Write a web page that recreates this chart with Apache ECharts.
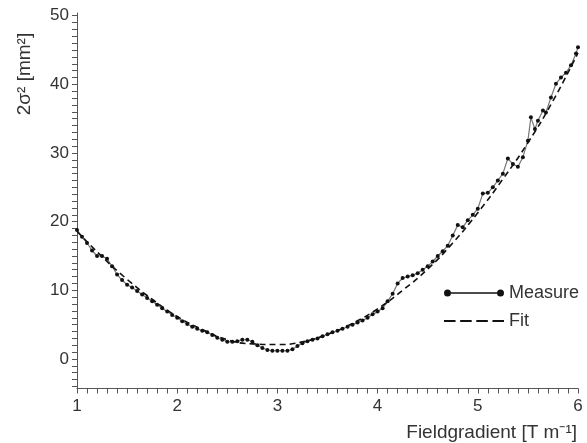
<!DOCTYPE html>
<html>
<head>
<meta charset="utf-8">
<script src="https://cdn.jsdelivr.net/npm/echarts@6/dist/echarts.min.js"></script>
<style>
html,body{margin:0;padding:0;background:#fff;}
#chart{width:587px;height:443px;}
</style>
</head>
<body>
<div id="chart"></div>
<script>
// ---- data ----
const measureX = [1.00,1.05,1.10,1.15,1.20,1.25,1.30,1.35,1.40,1.45,1.50,1.55,1.60,1.65,1.70,1.75,1.80,1.85,1.90,1.95,
  2.00,2.05,2.10,2.15,2.20,2.25,2.30,2.35,2.40,2.45,2.50,2.55,2.60,2.65,2.70,2.75,2.80,2.85,2.90,2.95,
  3.00,3.05,3.10,3.15,3.20,3.25,3.30,3.35,3.40,3.45,3.50,3.55,3.60,3.65,3.70,3.75,3.80,3.85,3.90,3.95,
  4.00,4.05,4.10,4.15,4.20,4.25,4.30,4.35,4.40,4.45,4.50,4.55,4.60,4.65,4.70,4.75,4.80,4.85,4.90,4.95,
  5.00,5.05,5.10,5.15,5.20,5.25,5.30,5.35,5.40,5.45,5.50,5.53,5.57,5.60,5.65,5.68,5.73,5.78,5.83,5.88,5.93,5.98,6.00];
const measureY = [18.8,17.8,16.9,15.8,15.0,15.0,14.6,13.5,12.3,11.5,10.8,10.4,9.9,9.4,8.9,8.4,7.9,7.4,6.9,6.4,
  6.0,5.5,5.1,4.7,4.4,4.1,3.9,3.5,3.1,2.8,2.5,2.5,2.6,2.8,2.8,2.5,2.0,1.6,1.3,1.2,
  1.2,1.2,1.2,1.4,1.9,2.3,2.6,2.8,3.0,3.3,3.6,3.9,4.1,4.4,4.7,5.0,5.3,5.6,6.0,6.5,
  6.9,7.4,8.4,9.5,11.0,11.8,12.0,12.2,12.5,13.0,13.5,14.2,15.0,15.7,16.5,18.0,19.5,19.2,20.2,21.0,
  21.9,24.1,24.2,25.0,26.0,27.0,29.2,28.4,28.0,29.4,31.8,35.2,33.5,34.7,36.2,35.9,38.1,40.1,41.0,41.7,42.8,44.5,45.4];
const fitX = [1.00,1.25,1.50,1.75,2.00,2.25,2.50,2.75,3.00,3.25,3.50,3.75,4.00,4.25,4.50,4.75,5.00,5.25,5.50,5.75,6.00];
const fitY = [18.6,14.9,11.6,8.7,6.2,4.3,2.8,2.2,2.1,2.5,3.6,5.2,7.3,10.0,13.1,16.9,21.3,26.2,31.5,37.6,44.6];
const xTickLabels = [1,2,3,4,5,6];
const yTickLabels = [0,10,20,30,40,50];
const seriesNames = ['Measure','Fit'];
const xAxisTitle = 'Fieldgradient [T m\u207B\u00B9]';
const yAxisTitle = '2\u03C3\u00B2 [mm\u00B2]';

// ---- build ----
const xMinor = []; for (let i = 10; i <= 60; i++) xMinor.push(i / 10);
const yMinor = []; for (let i = -4; i <= 50; i++) yMinor.push(i);
const font = '"Liberation Sans", Arial, Helvetica, sans-serif';
const axisCol = '#555';
const txtCol = '#333';

const chart = echarts.init(document.getElementById('chart'));
const dumbbell = 'path://M0,3.5 A3.5,3.5 0 0,1 7,3.5 A3.5,3.5 0 0,1 0,3.5 Z M7,2.8 L53,2.8 L53,4.2 L7,4.2 Z M53,3.5 A3.5,3.5 0 0,1 60,3.5 A3.5,3.5 0 0,1 53,3.5 Z';
const dashes = 'path://M0,0 L10,0 L10,1.6 L0,1.6 Z M14,0 L24,0 L24,1.6 L14,1.6 Z M28,0 L38,0 L38,1.6 L28,1.6 Z M42,0 L52,0 L52,1.6 L42,1.6 Z';

chart.setOption({
  animation: false,
  backgroundColor: '#fff',
  grid: {left: 77, right: 9, top: 13, bottom: 54.5},
  xAxis: {
    type: 'value', min: 1, max: 6,
    axisLine: {show: true, onZero: false, lineStyle: {color: axisCol, width: 1}},
    axisTick: {show: true, length: 5, customValues: xMinor, lineStyle: {color: axisCol}},
    axisLabel: {customValues: xTickLabels, margin: 9, fontSize: 17, color: txtCol, fontFamily: font},
    splitLine: {show: false}
  },
  yAxis: {
    type: 'value', min: -4.3, max: 50.4,
    axisLine: {show: true, onZero: false, lineStyle: {color: axisCol, width: 1}},
    axisTick: {show: true, length: 5, customValues: yMinor, lineStyle: {color: axisCol}},
    axisLabel: {customValues: yTickLabels, margin: 8, fontSize: 17, color: txtCol, fontFamily: font},
    splitLine: {show: false}
  },
  legend: {
    orient: 'vertical', left: 444, top: 284, padding: 0,
    itemWidth: 60, itemHeight: 7, itemGap: 10,
    textStyle: {fontSize: 18, color: txtCol, fontFamily: font},
    data: [
      {name: seriesNames[0], icon: dumbbell, itemStyle: {color: '#111', borderWidth: 0}},
      {name: seriesNames[1], icon: dashes, itemStyle: {color: '#111', borderWidth: 0}}
    ]
  },
  graphic: [
    {type: 'text', x: 25, y: 74, rotation: Math.PI / 2,
     style: {text: yAxisTitle, fill: txtCol, font: '19px ' + font, align: 'center', verticalAlign: 'middle'}},
    {type: 'text', x: 577, y: 433,
     style: {text: xAxisTitle, fill: txtCol, font: '19px ' + font, align: 'right', verticalAlign: 'middle'}}
  ],
  series: [
    {
      name: seriesNames[0], type: 'line',
      data: measureX.map((x, i) => [x, measureY[i]]),
      symbol: 'circle', symbolSize: 4, showSymbol: true,
      itemStyle: {color: '#111'},
      lineStyle: {color: '#777', width: 1.2},
      z: 2
    },
    {
      name: seriesNames[1], type: 'line',
      data: fitX.map((x, i) => [x, fitY[i]]),
      smooth: true, symbol: 'none',
      itemStyle: {color: '#111'},
      lineStyle: {color: '#111', width: 1.6, type: [6, 4]},
      z: 3
    }
  ]
});
</script>
</body>
</html>
